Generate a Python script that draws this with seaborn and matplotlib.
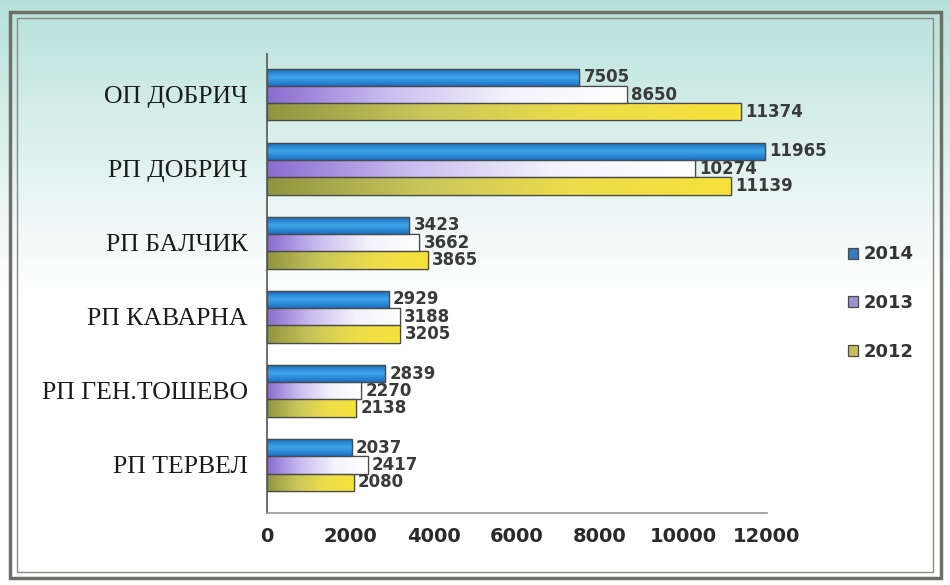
import numpy as np
import pandas as pd
import seaborn as sns
import matplotlib.pyplot as plt
from matplotlib.patches import Rectangle
from matplotlib.colors import LinearSegmentedColormap

categories = ['ОП ДОБРИЧ', 'РП ДОБРИЧ', 'РП БАЛЧИК', 'РП КАВАРНА', 'РП ГЕН.ТОШЕВО', 'РП ТЕРВЕЛ']
years = ['2014', '2013', '2012']
v2014 = [7505, 11965, 3423, 2929, 2839, 2037]
v2013 = [8650, 10274, 3662, 3188, 2270, 2417]
v2012 = [11374, 11139, 3865, 3205, 2138, 2080]
colors = ['#1f7bd0', '#9b86d8', '#d8cc48']

df = pd.DataFrame({
    'cat': categories * 3,
    'year': ['2014'] * 6 + ['2013'] * 6 + ['2012'] * 6,
    'val': v2014 + v2013 + v2012,
})

sns.set_style('white')
plt.rcParams['font.family'] = 'Liberation Serif'
numfont = 'DejaVu Sans'
fig = plt.figure(figsize=(9.5, 5.85), dpi=100)

# background gradient (teal at top, fading to white)
bg = fig.add_axes([0, 0, 1, 1], zorder=-10)
grad = np.linspace(0, 1, 256).reshape(-1, 1)
top = np.array([0.71, 0.88, 0.85])
t = np.clip(grad / 0.5, 0, 1) ** 0.9
img = top * (1 - t) + np.ones(3) * t
bg.imshow(img.reshape(256, 1, 3), aspect='auto', extent=[0, 1, 0, 1])
bg.set_axis_off()
fig.patches.append(Rectangle((0.01, 0.012), 0.98, 0.968, transform=fig.transFigure,
                             fill=False, edgecolor='#6f6f66', linewidth=2.5))
fig.patches.append(Rectangle((0.018, 0.022), 0.964, 0.948, transform=fig.transFigure,
                             fill=False, edgecolor='#8a8a80', linewidth=1.0))

ax = fig.add_axes([0.281, 0.123, 0.526, 0.785])
ax.patch.set_alpha(0)
sns.barplot(data=df, x='val', y='cat', hue='year', hue_order=years, order=categories,
            palette=colors, width=0.7, orient='h', edgecolor='#4a4a4a', linewidth=0.9,
            ax=ax, legend=True)

# gradient fills clipped to each bar
cmaps = [
    LinearSegmentedColormap.from_list('b', ['#1565b5', '#3fa6ea', '#1a70c4']),
    LinearSegmentedColormap.from_list('p', ['#8a6cd0', '#c9bdf0', '#f4f2fb', '#ffffff']),
    LinearSegmentedColormap.from_list('y', ['#8f9440', '#c9c65a', '#eedd4a', '#f7e23a']),
]
for i, cont in enumerate(ax.containers):
    for p in cont.patches:
        x0, y0 = p.get_x(), p.get_y()
        w, h = p.get_width(), p.get_height()
        if i == 0:
            arr = np.linspace(0, 1, 64).reshape(-1, 1)
        else:
            arr = np.linspace(0, 1, 256).reshape(1, -1)
        im = ax.imshow(arr, cmap=cmaps[i], aspect='auto', extent=[x0, x0 + w, y0 + h, y0],
                       zorder=p.get_zorder() + 0.1, interpolation='bilinear')
        im.set_clip_path(p)
        edge = Rectangle((x0, y0), w, h, fill=False, edgecolor='#4a4a4a', linewidth=0.9,
                         zorder=p.get_zorder() + 0.2)
        ax.add_patch(edge)

for cont in ax.containers:
    ax.bar_label(cont, fmt='%d', padding=3, fontsize=12, fontweight='bold',
                 color='#3a3a3a', family=numfont)

ax.set_xlim(0, 12000)
ax.set_ylim(5.65, -0.55)
ax.set_xlabel('')
ax.set_ylabel('')
ax.set_xticks(range(0, 12001, 2000), labels=[str(v) for v in range(0, 12001, 2000)],
              family=numfont, fontsize=14, fontweight='bold', color='#2a2a2a')
ax.tick_params(axis='x', colors='#555555', length=4, width=1, pad=10,
               direction='in', labelcolor='#2a2a2a')
ax.set_yticks(range(len(categories)), labels=categories, family='Liberation Serif',
              fontsize=18.5, color='#1a1a1a')
ax.tick_params(axis='y', length=0, pad=14)
ax.set_yticks(np.arange(-0.5, 6, 1), minor=True)
ax.tick_params(axis='y', which='minor', length=5, direction='out', color='#555555')
for s in ['top', 'right']:
    ax.spines[s].set_visible(False)
ax.spines['left'].set_color('#555555')
ax.spines['left'].set_linewidth(1.2)
ax.spines['bottom'].set_color('#9a9a9a')
ax.spines['bottom'].set_linewidth(1.2)

leg = ax.legend(loc='center left', bbox_to_anchor=(1.13, 0.457), frameon=False,
                fontsize=13, handlelength=0.55, handleheight=0.55, labelspacing=1.7,
                handletextpad=0.3)
for txt in leg.get_texts():
    txt.set_color('#333333')
    txt.set_fontfamily(numfont)
    txt.set_fontweight('bold')

fig.savefig('out.png', dpi=100)
